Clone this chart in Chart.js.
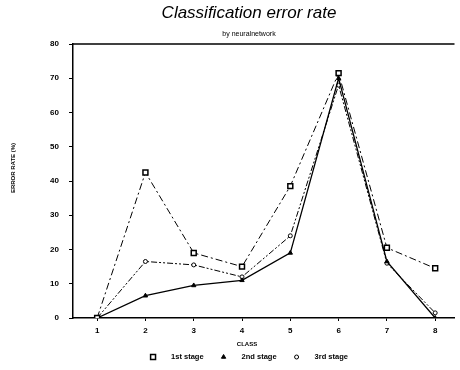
<!DOCTYPE html>
<html>
<head>
<meta charset="utf-8">
<script src="https://cdn.jsdelivr.net/npm/chart.js@4"></script>
<style>
  html, body { margin: 0; padding: 0; background: #fff; }
  #wrap { width: 460px; height: 370px; }
</style>
</head>
<body>
<div id="wrap"><canvas id="errChart" width="460" height="370"></canvas></div>
<script>
// Classification error rate by class
const classes = [1, 2, 3, 4, 5, 6, 7, 8];
const stage1 = [0, 42.5, 19, 15, 38.5, 71.5, 20.5, 14.5];
const stage2 = [0, 6.5, 9.5, 11, 19, 70, 16.5, 0];
const stage3 = [0, 16.5, 15.5, 12, 24, 68, 16, 1.5];
const stageNames = ['1st stage', '2nd stage', '3rd stage'];
const yTicks = [0, 10, 20, 30, 40, 50, 60, 70, 80];

const FONT = 'Liberation Sans';
const textCenter = 249;

const toPoints = vals => classes.map((c, i) => ({ x: c, y: vals[i] }));

// Titles, axis captions, legend and top frame line
const decorations = {
    id: 'decorations',
    afterDraw(chart) {
        const { ctx, chartArea } = chart;
        ctx.save();
        ctx.fillStyle = '#000';
        ctx.strokeStyle = '#000';

        // frame top
        ctx.lineWidth = 1.5;
        ctx.beginPath();
        ctx.moveTo(chartArea.left, chartArea.top);
        ctx.lineTo(chartArea.right, chartArea.top);
        ctx.stroke();

        ctx.textAlign = 'center';
        ctx.textBaseline = 'middle';
        ctx.font = `italic 17px ${FONT}`;
        ctx.fillText('Classification error rate', textCenter, 13);
        ctx.font = `7px ${FONT}`;
        ctx.fillText('by neuralnetwork', textCenter, 34);
        ctx.font = `bold 6px ${FONT}`;
        ctx.fillText('CLASS', textCenter - 2, 344);

        // y caption
        ctx.save();
        ctx.translate(13, 168);
        ctx.rotate(-Math.PI / 2);
        ctx.fillText('ERROR RATE (%)', 0, 0);
        ctx.restore();

        // legend
        ctx.font = `bold 7.5px ${FONT}`;
        const markGap = 18, itemGap = 20;
        const widths = stageNames.map(n => ctx.measureText(n).width);
        const total = widths.reduce((a, w) => a + markGap + w, 0) + itemGap * (stageNames.length - 1) + 3;
        let x = textCenter - total / 2 + 3;
        const y = 357;
        ctx.textAlign = 'left';
        chart.data.datasets.forEach((ds, i) => {
            ctx.lineWidth = ds.pointBorderWidth || 1;
            ctx.fillStyle = ds.pointBackgroundColor;
            Chart.helpers.drawPoint(ctx, {
                pointStyle: ds.pointStyle,
                radius: ds.pointRadius,
                borderWidth: ds.pointBorderWidth || 1,
                rotation: 0
            }, x, y);
            ctx.fillStyle = '#000';
            ctx.fillText(stageNames[i], x + markGap, y);
            x += markGap + widths[i] + itemGap;
        });
        ctx.restore();
    }
};

new Chart(document.getElementById('errChart'), {
    type: 'line',
    data: {
        datasets: [
            {
                label: stageNames[0],
                data: toPoints(stage1),
                borderColor: '#000',
                borderWidth: 1,
                borderDash: [7, 3, 2, 3],
                pointStyle: 'rect',
                pointRadius: 3.5,
                pointBackgroundColor: '#fff',
                pointBorderColor: '#000',
                pointBorderWidth: 1.5
            },
            {
                label: stageNames[1],
                data: toPoints(stage2),
                borderColor: '#000',
                borderWidth: 1.3,
                pointStyle: 'triangle',
                pointRadius: 2.5,
                pointBackgroundColor: '#000',
                pointBorderColor: '#000',
                pointBorderWidth: 1
            },
            {
                label: stageNames[2],
                data: toPoints(stage3),
                borderColor: '#000',
                borderWidth: 1,
                borderDash: [6, 2, 2, 2, 2, 2],
                pointStyle: 'circle',
                pointRadius: 2,
                pointBackgroundColor: '#fff',
                pointBorderColor: '#000',
                pointBorderWidth: 1
            }
        ]
    },
    options: {
        responsive: false,
        animation: false,
        layout: { padding: { left: 0, right: 3, top: 44, bottom: 32 } },
        plugins: {
            title: { display: false },
            legend: { display: false },
            tooltip: { enabled: false }
        },
        scales: {
            x: {
                type: 'linear',
                min: 0.5,
                max: 8.4,
                grid: { display: true, drawOnChartArea: false, drawTicks: true, tickLength: 3, color: '#000' },
                border: { color: '#000', width: 1.5 },
                afterBuildTicks: scale => {
                    scale.ticks = classes.map(v => ({ value: v }));
                },
                afterFit: scale => { scale.height = 20; },
                ticks: {
                    color: '#000',
                    font: { family: FONT, size: 8, weight: 'bold' },
                    padding: 5
                }
            },
            y: {
                min: 0,
                max: 80,
                grid: { display: true, drawOnChartArea: false, drawTicks: true, tickLength: 4, color: '#000' },
                border: { color: '#000', width: 1.5 },
                afterBuildTicks: scale => {
                    scale.ticks = yTicks.map(v => ({ value: v }));
                },
                afterFit: scale => { scale.width = 73; },
                ticks: {
                    color: '#000',
                    font: { family: FONT, size: 8, weight: 'bold' },
                    padding: 10
                }
            }
        }
    },
    plugins: [decorations]
});
</script>
</body>
</html>
